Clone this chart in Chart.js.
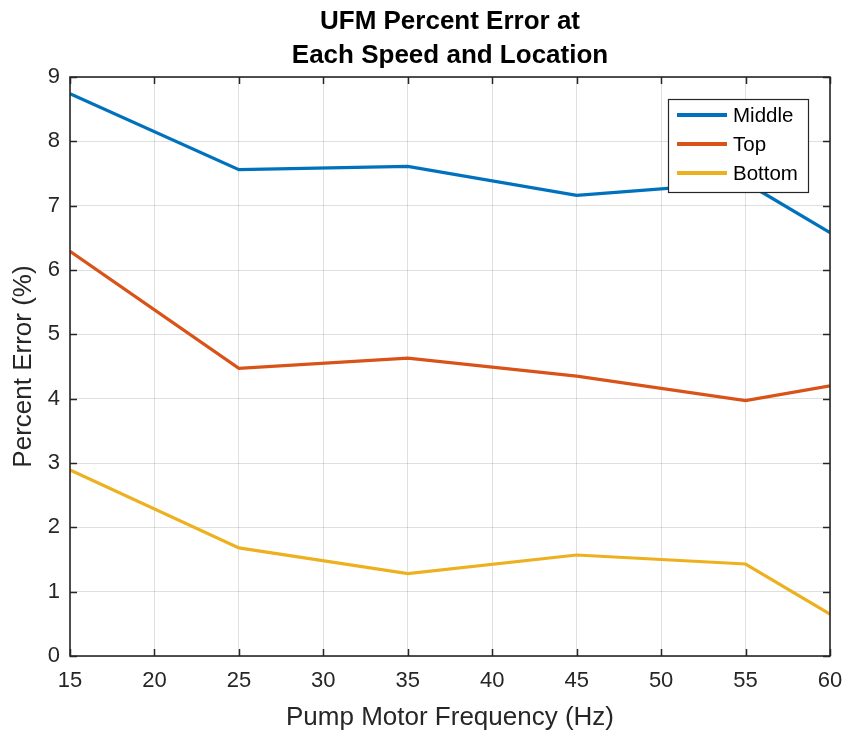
<!DOCTYPE html>
<html>
<head>
<meta charset="utf-8">
<script src="https://cdn.jsdelivr.net/npm/chart.js@4"></script>
<style>
  html, body { margin: 0; padding: 0; background: #fff; }
  #wrap { width: 845px; height: 733px; position: relative; }
</style>
</head>
<body>
<div id="wrap"><canvas id="c" width="845" height="733"></canvas></div>
<script>
const frequencies = [15, 25, 35, 45, 55, 60];
const middleError = [8.74, 7.56, 7.61, 7.16, 7.36, 6.58];
const topError    = [6.29, 4.47, 4.63, 4.35, 3.97, 4.20];
const bottomError = [2.89, 1.68, 1.28, 1.57, 1.43, 0.65];
const seriesNames = ['Middle', 'Top', 'Bottom'];
const xTicks = [15, 20, 25, 30, 35, 40, 45, 50, 55, 60];
const yTicks = [0, 1, 2, 3, 4, 5, 6, 7, 8, 9];

const FONT = '"Liberation Sans", Arial, Helvetica, sans-serif';
const AXIS = '#262626';
const colors = ['#0072BD', '#D95319', '#EDB120'];

function pts(vals) { return frequencies.map((f, i) => ({ x: f, y: vals[i] })); }

const framePlugin = {
  id: 'frame',
  afterLayout(chart) {
    const tb = chart.titleBlock;
    if (tb) {
      tb.left = chart.chartArea.left;
      tb.right = chart.chartArea.right;
      tb.width = tb.right - tb.left;
    }
  },
  afterDatasetsDraw(chart) {
    const { ctx, chartArea: a, scales: { x, y } } = chart;
    ctx.save();
    ctx.strokeStyle = AXIS;
    ctx.lineWidth = 1.5;
    const tl = 7;
    ctx.beginPath();
    x.ticks.forEach(t => {
      const px = Math.round(x.getPixelForValue(t.value)) + 0.5;
      ctx.moveTo(px, a.bottom); ctx.lineTo(px, a.bottom - tl);
      ctx.moveTo(px, a.top); ctx.lineTo(px, a.top + tl);
    });
    y.ticks.forEach(t => {
      const py = Math.round(y.getPixelForValue(t.value)) + 0.5;
      ctx.moveTo(a.left, py); ctx.lineTo(a.left + tl, py);
      ctx.moveTo(a.right, py); ctx.lineTo(a.right - tl, py);
    });
    ctx.stroke();
    ctx.lineWidth = 1.6;
    ctx.strokeRect(a.left, a.top, a.right - a.left, a.bottom - a.top);
    ctx.restore();
  },
  afterDraw(chart) {
    const { ctx, chartArea: a } = chart;
    const ds = chart.data.datasets;
    const boxW = 140, boxH = 93;
    const bx = a.right - 22 - boxW, by = a.top + 22;
    ctx.save();
    ctx.fillStyle = '#fff';
    ctx.fillRect(bx, by, boxW, boxH);
    ctx.strokeStyle = AXIS;
    ctx.lineWidth = 1.2;
    ctx.strokeRect(bx + 0.5, by + 0.5, boxW, boxH);
    ctx.font = '20.5px ' + FONT;
    ctx.textBaseline = 'middle';
    ctx.fillStyle = '#000';
    ds.forEach((d, i) => {
      const yy = by + 16 + i * 29;
      ctx.strokeStyle = d.borderColor;
      ctx.lineWidth = 4;
      ctx.beginPath();
      ctx.moveTo(bx + 9, yy); ctx.lineTo(bx + 59, yy);
      ctx.stroke();
      ctx.fillText(d.label, bx + 65, yy + 1);
    });
    ctx.restore();
  }
};

new Chart(document.getElementById('c'), {
  type: 'line',
  data: {
    datasets: [
      { label: seriesNames[0], data: pts(middleError), borderColor: colors[0] },
      { label: seriesNames[1], data: pts(topError), borderColor: colors[1] },
      { label: seriesNames[2], data: pts(bottomError), borderColor: colors[2] }
    ].map(d => Object.assign(d, { borderWidth: 3.2, pointRadius: 0, tension: 0, fill: false }))
  },
  options: {
    responsive: false,
    animation: false,
    devicePixelRatio: 1,
    layout: { padding: { left: 0, right: 15, top: 0, bottom: 0 } },
    plugins: {
      legend: { display: false },
      tooltip: { enabled: false },
      title: {
        display: true,
        text: ['UFM Percent Error at', 'Each Speed and Location'],
        color: '#000',
        font: { family: FONT, size: 26, weight: 'bold', lineHeight: 1.3 },
        padding: { top: 5, bottom: 4.4 }
      }
    },
    scales: {
      x: {
        type: 'linear',
        min: 15, max: 60,
        afterBuildTicks: s => { s.ticks = xTicks.map(v => ({ value: v })); },
        afterFit: s => { s.height = 77; s.paddingLeft = 0; s.paddingRight = 0; },
        ticks: { color: AXIS, font: { family: FONT, size: 22 }, padding: 12, maxRotation: 0 },
        grid: { color: 'rgba(38,38,38,0.15)', lineWidth: 1, drawTicks: false },
        border: { display: false },
        title: {
          display: true, text: 'Pump Motor Frequency (Hz)', color: AXIS,
          font: { family: FONT, size: 26 }, padding: { top: 0, bottom: 0 }
        }
      },
      y: {
        min: 0, max: 9,
        afterBuildTicks: s => { s.ticks = yTicks.map(v => ({ value: v })); },
        afterFit: s => { s.width = 70; s.paddingTop = 0; s.paddingBottom = 0; },
        ticks: { color: AXIS, font: { family: FONT, size: 22 }, padding: 10 },
        grid: { color: 'rgba(38,38,38,0.15)', lineWidth: 1, drawTicks: false },
        border: { display: false },
        title: {
          display: true, text: 'Percent Error (%)', color: AXIS,
          font: { family: FONT, size: 26 }, padding: { top: 8, bottom: 0 }
        }
      }
    }
  },
  plugins: [framePlugin]
});
</script>
</body>
</html>
